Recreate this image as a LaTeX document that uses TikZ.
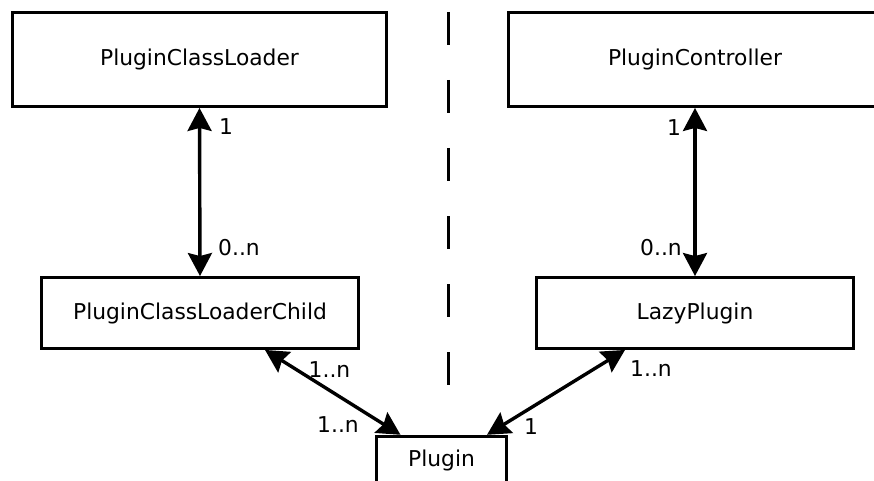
\documentclass[tikz,border=0pt]{standalone}
\usepackage{fontspec}
\setmainfont{DejaVu Sans}
\usetikzlibrary{arrows.meta}
\begin{document}
\begin{tikzpicture}[x=1pt,y=-1pt,
  every node/.style={font=\fontsize{21.8}{26}\selectfont},
  box/.style={draw,line width=3.4pt,rectangle,inner sep=0pt},
  lbl/.style={inner sep=0pt,anchor=center},
  assoc/.style={line width=3.4pt,{Stealth[length=23pt,width=24pt,inset=3pt]}-{Stealth[length=23pt,width=24pt,inset=3pt]}}]
\useasboundingbox (0,0) rectangle (874,481);
\clip (0,0) rectangle (874,481);
% separator between the two halves
\coordinate (sepTop) at (448.5,12);
\coordinate (sepBot) at (448.5,385);
\draw[line width=3.4pt,dash pattern=on 33pt off 35pt] (sepTop) -- (sepBot);
% classes
\node[box,minimum width=373.5pt,minimum height=93.5pt] (cl) at (199.5,59.5) {PluginClassLoader};
\node[box,minimum width=372.5pt,minimum height=93.5pt] (pc) at (695,59.5) {PluginController};
\node[box,minimum width=316.5pt,minimum height=70.5pt] (clc) at (200,313) {PluginClassLoaderChild};
\node[box,minimum width=316.5pt,minimum height=70.5pt] (lazy) at (695,313) {LazyPlugin};
\node[box,minimum width=129.5pt,minimum height=47pt] (plugin) at (441.5,460) {Plugin};
% associations
\draw[assoc] (cl.south) -- (clc.north);
\draw[assoc] (pc.south) -- (lazy.north);
\draw[assoc] ([xshift=65pt]clc.south) -- ([xshift=-41pt]plugin.north);
\draw[assoc] ([xshift=-70pt]lazy.south) -- ([xshift=45.5pt]plugin.north);
% multiplicities
\node[lbl] (m1) at (226,127) {1};
\node[lbl] (m2) at (239,248) {0..n};
\node[lbl] (m3) at (674,127.5) {1};
\node[lbl] (m4) at (661,248) {0..n};
\node[lbl] (m5) at (329.5,370) {1..n};
\node[lbl] (m6) at (338,425) {1..n};
\node[lbl] (m7) at (651,369) {1..n};
\node[lbl] (m8) at (531,427) {1};
\end{tikzpicture}
\end{document}
